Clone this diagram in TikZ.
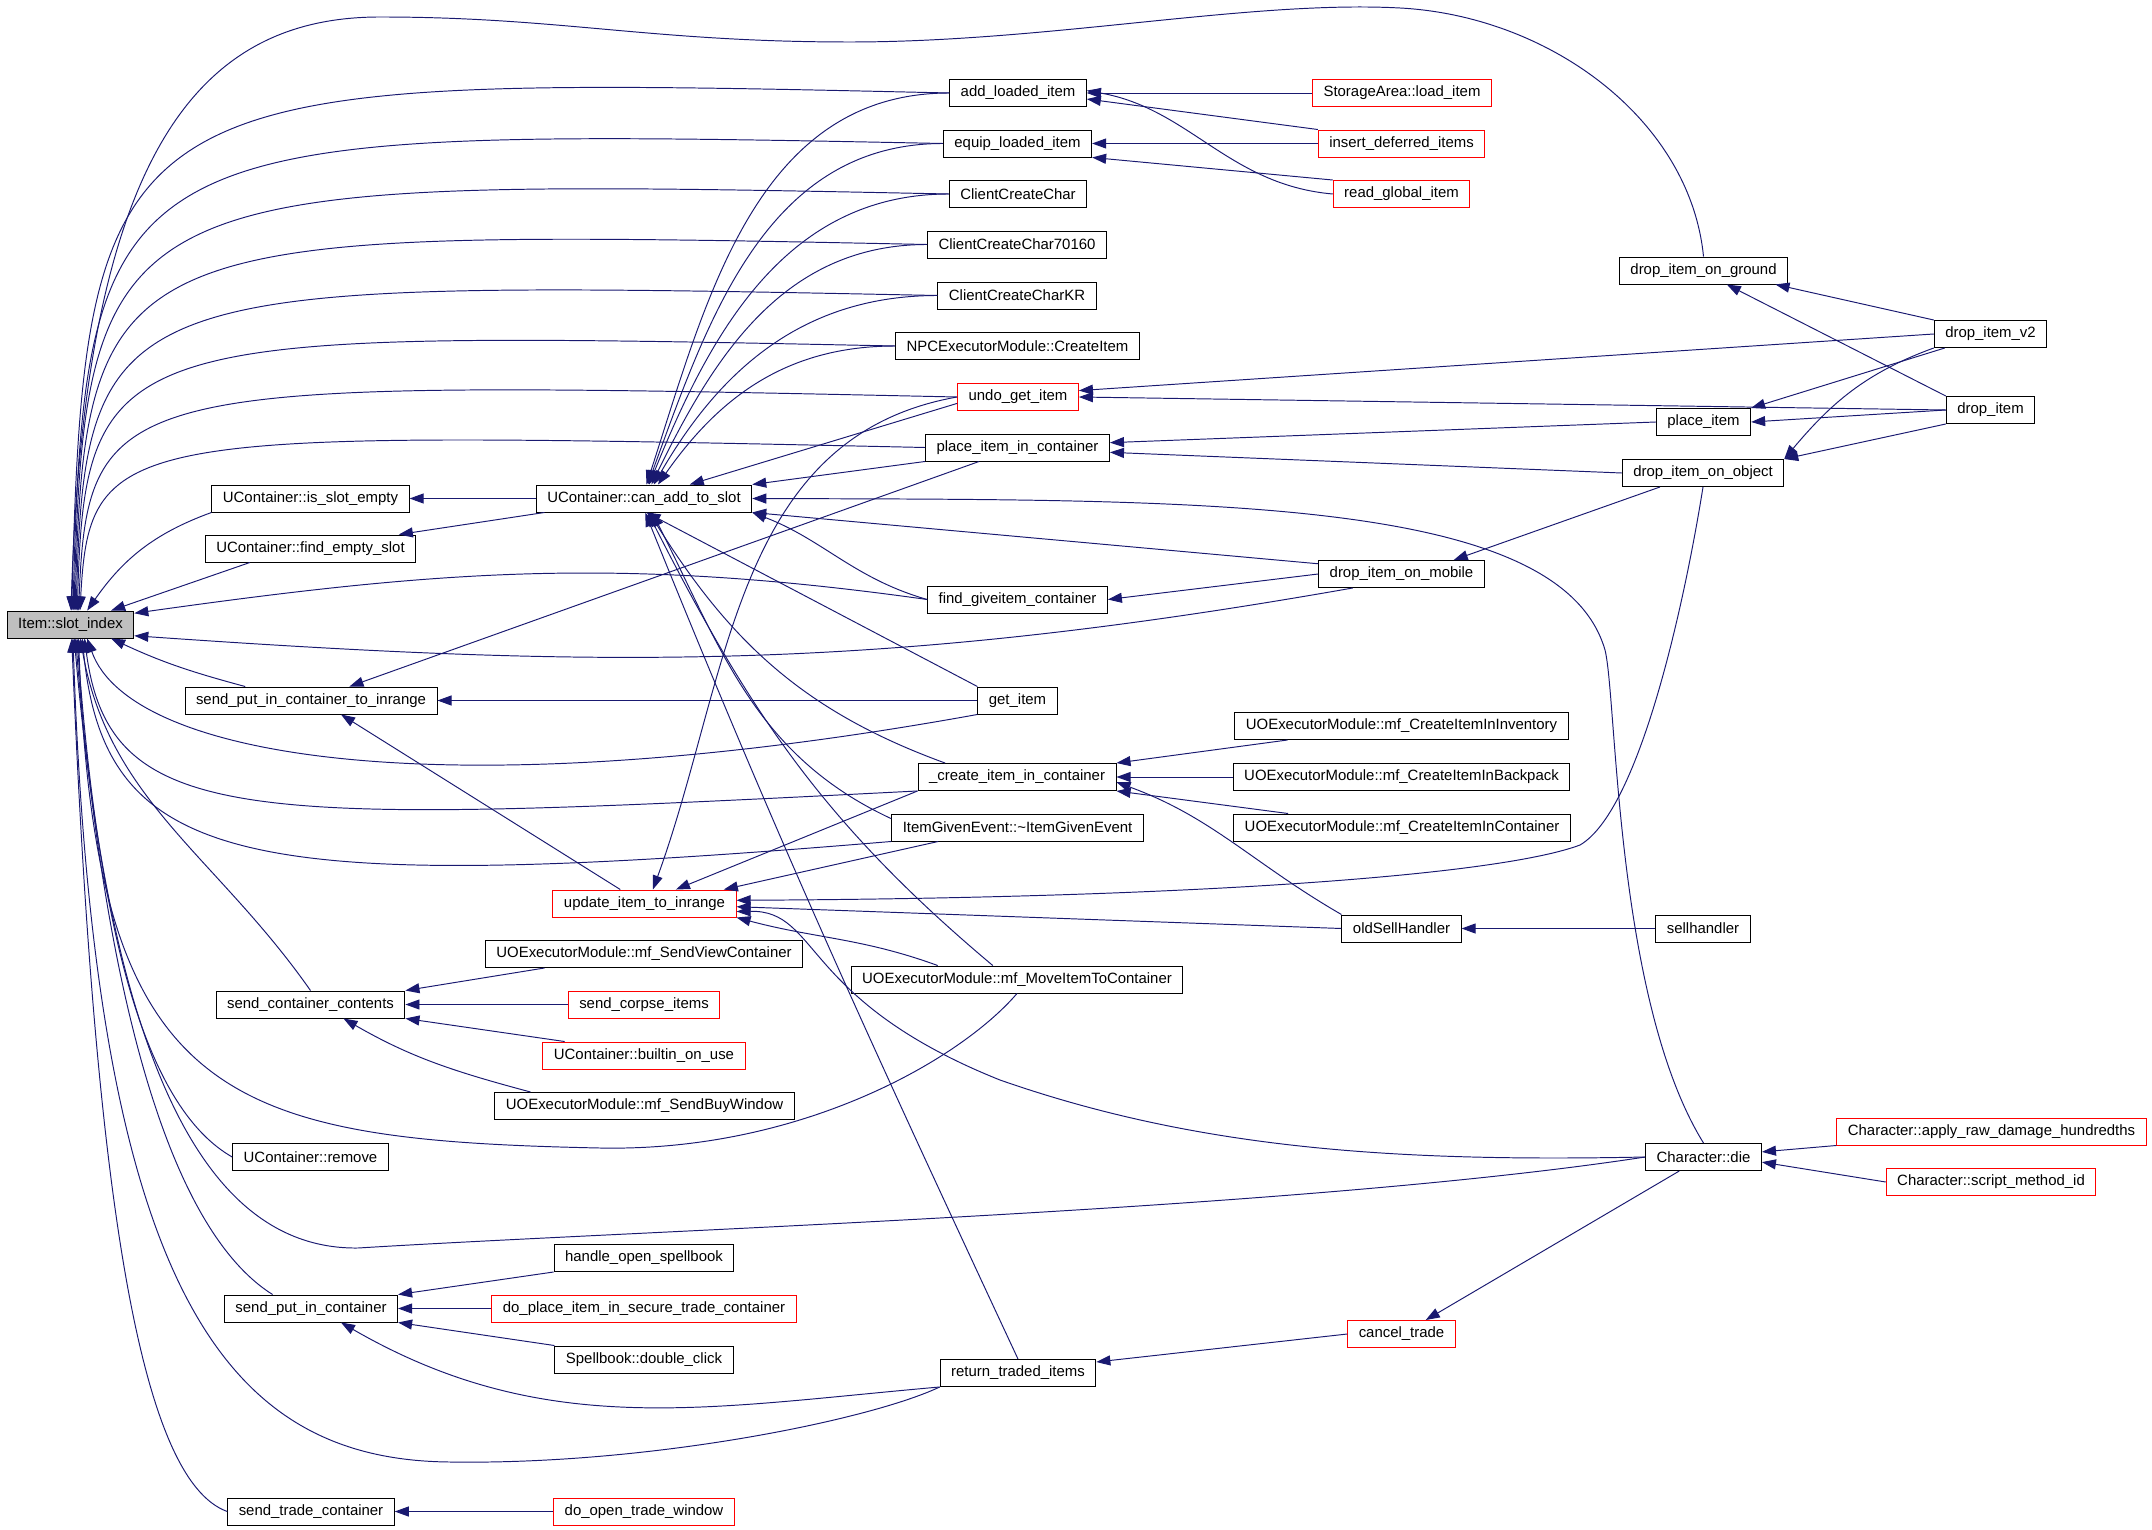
\documentclass[tikz,border=0pt]{standalone}
\usepackage{fontspec}
\setmainfont{Liberation Sans}
\usepackage{tikz}
\usetikzlibrary{arrows.meta}
\definecolor{callblue}{HTML}{191970}
\definecolor{nodered}{HTML}{FF0000}
\definecolor{selgray}{HTML}{BFBFBF}
\tikzset{%
  >={Triangle[width=5.7pt,length=8pt]},
           base/.style = {rectangle, draw=black, line width=0.55pt,
                          inner xsep=0.22cm, inner ysep=0pt, minimum height=0.54cm,
                          text centered, font=\fontsize{8.5}{10}\selectfont},
  fn/.style    = {base},
  fnred/.style = {base, draw=nodered},
  fnsel/.style = {base, fill=selgray},
  call/.style  = {draw=callblue, line width=0.55pt},
}

\begin{document}
\begin{tikzpicture}[x=0.02cm, y=-0.02cm]
  \useasboundingbox (0,0) rectangle (2152,1530);

  \node (onSlotIndex)         [fnsel] at (70.5,624.5)  {Item::slot\_index};

  \node (onIsSlotEmpty)       [fn]    at (310.5,498.5) {UContainer::is\_slot\_empty};
  \node (onFindEmpty)         [fn]    at (310.5,548.5) {UContainer::find\_empty\_slot};
  \node (onSendPutRange)      [fn]    at (311,700.5)   {send\_put\_in\_container\_to\_inrange};
  \node (onSendContents)      [fn]    at (310.5,1004.5) {send\_container\_contents};
  \node (onRemove)            [fn]    at (310.5,1157)  {UContainer::remove};
  \node (onSendPut)           [fn]    at (311,1308.5)  {send\_put\_in\_container};
  \node (onSendTrade)         [fn]    at (311,1511.5)  {send\_trade\_container};

  \node (onCanAdd)            [fn]    at (644,498.5)   {UContainer::can\_add\_to\_slot};
  \node (onUpdateRange)       [fnred] at (644.5,903.5) {update\_item\_to\_inrange};
  \node (onSendView)          [fn]    at (644,954)     {UOExecutorModule::mf\_SendViewContainer};
  \node (onCorpse)            [fnred] at (644,1004.5)  {send\_corpse\_items};
  \node (onBuiltinUse)        [fnred] at (644,1055.5)  {UContainer::builtin\_on\_use};
  \node (onBuyWindow)         [fn]    at (644.5,1106)  {UOExecutorModule::mf\_SendBuyWindow};
  \node (onOpenSpellbook)     [fn]    at (644,1258)    {handle\_open\_spellbook};
  \node (onSecureTrade)       [fnred] at (644,1308.5)  {do\_place\_item\_in\_secure\_trade\_container};
  \node (onDoubleClick)       [fn]    at (644,1359.5)  {Spellbook::double\_click};
  \node (onOpenTrade)         [fnred] at (644,1511.5)  {do\_open\_trade\_window};

  \node (onAddLoaded)         [fn]    at (1018,93)     {add\_loaded\_item};
  \node (onEquipLoaded)       [fn]    at (1017.5,143.5) {equip\_loaded\_item};
  \node (onClientCreate)      [fn]    at (1018,194)    {ClientCreateChar};
  \node (onClientCreate70160) [fn]    at (1017,244.5)  {ClientCreateChar70160};
  \node (onClientCreateKR)    [fn]    at (1017,295.5)  {ClientCreateCharKR};
  \node (onNpcCreate)         [fn]    at (1017.5,346)  {NPCExecutorModule::CreateItem};
  \node (onUndoGet)           [fnred] at (1018,397)    {undo\_get\_item};
  \node (onPlaceInCont)       [fn]    at (1017.5,447.5) {place\_item\_in\_container};
  \node (onFindGive)          [fn]    at (1017.5,599.5) {find\_giveitem\_container};
  \node (onGetItem)           [fn]    at (1017.5,700.5) {get\_item};
  \node (onCreateInCont)      [fn]    at (1017,777)    {\_create\_item\_in\_container};
  \node (onGivenEvent)        [fn]    at (1017.5,827.5) {ItemGivenEvent::\textasciitilde ItemGivenEvent};
  \node (onMoveItem)          [fn]    at (1017,979.5)  {UOExecutorModule::mf\_MoveItemToContainer};
  \node (onReturnTraded)      [fn]    at (1018,1373)   {return\_traded\_items};

  \node (onLoadItem)          [fnred] at (1402,93)     {StorageArea::load\_item};
  \node (onInsertDeferred)    [fnred] at (1401.5,143.5) {insert\_deferred\_items};
  \node (onReadGlobal)        [fnred] at (1401.5,194)  {read\_global\_item};
  \node (onDropMobile)        [fn]    at (1401.5,574)  {drop\_item\_on\_mobile};
  \node (onCreateInventory)   [fn]    at (1401.5,726)  {UOExecutorModule::mf\_CreateItemInInventory};
  \node (onCreateBackpack)    [fn]    at (1401.5,777)  {UOExecutorModule::mf\_CreateItemInBackpack};
  \node (onCreateContainer)   [fn]    at (1402,827.5)  {UOExecutorModule::mf\_CreateItemInContainer};
  \node (onOldSell)           [fn]    at (1401.5,928.5) {oldSellHandler};
  \node (onCancelTrade)       [fnred] at (1401.5,1334) {cancel\_trade};

  \node (onDropGround)        [fn]    at (1703.5,270.5) {drop\_item\_on\_ground};
  \node (onPlaceItem)         [fn]    at (1703.5,422)  {place\_item};
  \node (onDropObject)        [fn]    at (1703,473)    {drop\_item\_on\_object};
  \node (onSellHandler)       [fn]    at (1703,928.5)  {sellhandler};
  \node (onDie)               [fn]    at (1703.5,1157) {Character::die};

  \node (onDropV2)            [fn]    at (1990.5,334)  {drop\_item\_v2};
  \node (onDropItem)          [fn]    at (1990.5,410)  {drop\_item};
  \node (onRawDamage)         [fnred] at (1991.5,1131.5) {Character::apply\_raw\_damage\_hundredths};
  \node (onScriptMethod)      [fnred] at (1991,1182)   {Character::script\_method\_id};

  \draw[<-, call] (onSlotIndex.88) .. controls (85,150) and (200,17) .. (380,17) .. controls (560,17) and (650,42) .. (850,42) .. controls (1050,42) and (1250,0) .. (1400,8) .. controls (1550,16) and (1690,120) .. (onDropGround.north);
  \draw[<-, call] (onSlotIndex.85) .. controls (85,74) and (120,74) .. (onAddLoaded.west);
  \draw[<-, call] (onSlotIndex.80) .. controls (85,127) and (120,127) .. (onEquipLoaded.west);
  \draw[<-, call] (onSlotIndex.76) .. controls (85,177) and (120,177) .. (onClientCreate.west);
  \draw[<-, call] (onSlotIndex.72) .. controls (85,228) and (120,228) .. (onClientCreate70160.west);
  \draw[<-, call] (onSlotIndex.68) .. controls (85,279) and (120,279) .. (onClientCreateKR.west);
  \draw[<-, call] (onSlotIndex.64) .. controls (85,330) and (120,330) .. (onNpcCreate.west);
  \draw[<-, call] (onSlotIndex.60) .. controls (88,379) and (120,379) .. (onUndoGet.west);
  \draw[<-, call] (onSlotIndex.56) .. controls (90,430) and (120,430) .. (onPlaceInCont.west);
  \draw[<-, call] (onSlotIndex.40) to[out=55,in=200] (onIsSlotEmpty.south west);
  \draw[<-, call] (onSlotIndex.19) -- (onFindEmpty.193);
  \draw[<-, call] (onSlotIndex.10) to[out=8,in=172] (onFindGive.west);
  \draw[<-, call] (onSlotIndex.-10) to[out=-4,in=190] (onDropMobile.196);
  \draw[<-, call] (onSlotIndex.-19) to[out=-25,in=165] (onSendPutRange.168);
  \draw[<-, call] (onSlotIndex.-40) .. controls (130,760) and (450,810) .. (onGetItem.south west);
  \draw[<-, call] (onSlotIndex.-45) .. controls (110,830) and (250,825) .. (onCreateInCont.south west);
  \draw[<-, call] (onSlotIndex.-50) .. controls (105,870) and (250,895) .. (onGivenEvent.south west);
  \draw[<-, call] (onSlotIndex.-55) to[out=-80,in=125] (onSendContents.north);
  \draw[<-, call] (onSlotIndex.-60) .. controls (95,1100) and (220,1140) .. (600,1148) .. controls (800,1152) and (960,1060) .. (onMoveItem.south);
  \draw[<-, call] (onSlotIndex.-65) .. controls (100,950) and (150,1110) .. (onRemove.west);
  \draw[<-, call] (onSlotIndex.-70) .. controls (105,1000) and (170,1230) .. (onSendPut.160);
  \draw[<-, call] (onSlotIndex.-75) .. controls (110,1050) and (200,1250) .. (358,1248) .. controls (650,1230) and (1300,1210) .. (onDie.west);
  \draw[<-, call] (onSlotIndex.-80) .. controls (95,1300) and (230,1460) .. (450,1462) .. controls (650,1465) and (870,1420) .. (onReturnTraded.south west);
  \draw[<-, call] (onSlotIndex.-85) .. controls (95,1200) and (140,1480) .. (onSendTrade.west);

  \draw[<-, call] (onCanAdd.80) to[out=72,in=180] (onAddLoaded.west);
  \draw[<-, call] (onCanAdd.75) to[out=70,in=180] (onEquipLoaded.west);
  \draw[<-, call] (onCanAdd.70) to[out=68,in=180] (onClientCreate.west);
  \draw[<-, call] (onCanAdd.62) to[out=64,in=180] (onClientCreate70160.west);
  \draw[<-, call] (onCanAdd.55) to[out=60,in=180] (onClientCreateKR.west);
  \draw[<-, call] (onCanAdd.45) to[out=55,in=180] (onNpcCreate.west);
  \draw[<-, call] (onCanAdd.17) -- (onUndoGet.186);
  \draw[<-, call] (onCanAdd.north east) -- (onPlaceInCont.south west);
  \draw[<-, call] (onCanAdd.south east) to[out=-21,in=164] (onFindGive.west);
  \draw[<-, call] (onCanAdd.south east) -- (onDropMobile.173);
  \draw[<-, call] (onCanAdd.-80) -- (onGetItem.north west);
  \draw[<-, call] (onCanAdd.-70) to[out=-58,in=160] (onCreateInCont.169);
  \draw[<-, call] (onCanAdd.-60) to[out=-63,in=155] (onGivenEvent.176);
  \draw[<-, call] (onCanAdd.-75) to[out=-63,in=140] (onMoveItem.150);
  \draw[<-, call] (onCanAdd.-85) to[out=-68,in=115] (onReturnTraded.north);
  \draw[<-, call] (onCanAdd.east) .. controls (1200,500) and (1560,495) .. (1605,650) .. controls (1617,698) and (1615,1000) .. (onDie.north);
  \draw[<-, call] (onIsSlotEmpty) -- (onCanAdd);
  \draw[<-, call] (onFindEmpty.9) -- (onCanAdd.188);

  \draw[<-, call] (onSendPutRange.20) -- (onPlaceInCont.200);
  \draw[<-, call] (onSendPutRange) -- (onGetItem);
  \draw[<-, call] (onSendPutRange.-25) -- (onUpdateRange.150);

  \draw[<-, call] (onUpdateRange.59) to[out=70,in=190] (onUndoGet.west);
  \draw[<-, call] (onUpdateRange.24) -- (onCreateInCont.south west);
  \draw[<-, call] (onUpdateRange.10) -- (onGivenEvent.190);
  \draw[<-, call] (onUpdateRange.2) .. controls (1200,898) and (1500,875) .. (1580,845) .. controls (1640,810) and (1685,600) .. (onDropObject.south);
  \draw[<-, call] (onUpdateRange.-2) -- (onOldSell.west);
  \draw[<-, call] (onUpdateRange.south east) to[out=-15,in=160] (onMoveItem.170);
  \draw[<-, call] (onUpdateRange.-5) .. controls (820,910) and (800,1000) .. (1000,1080) .. controls (1200,1150) and (1400,1162) .. (onDie.west);

  \draw[<-, call] (onSendContents.north east) -- (onSendView.188);
  \draw[<-, call] (onSendContents) -- (onCorpse);
  \draw[<-, call] (onSendContents.south east) -- (onBuiltinUse.170);
  \draw[<-, call] (onSendContents.-23) to[out=-30,in=165] (onBuyWindow.173);

  \draw[<-, call] (onSendPut.north east) -- (onOpenSpellbook.south west);
  \draw[<-, call] (onSendPut) -- (onSecureTrade);
  \draw[<-, call] (onSendPut.south east) -- (onDoubleClick.north west);
  \draw[<-, call] (onSendPut.-25) to[out=-30,in=185] (onReturnTraded.south west);
  \draw[<-, call] (onSendTrade) -- (onOpenTrade);

  \draw[<-, call] (onReturnTraded.8) -- (onCancelTrade.west);
  \draw[<-, call] (onCancelTrade.30) -- (onDie.-150);
  \draw[<-, call] (onDie.5) -- (onRawDamage.south west);
  \draw[<-, call] (onDie.-5) -- (onScriptMethod.west);
  \draw[<-, call] (onOldSell) -- (onSellHandler);

  \draw[<-, call] (onCreateInCont.north east) -- (onCreateInventory.187);
  \draw[<-, call] (onCreateInCont) -- (onCreateBackpack);
  \draw[<-, call] (onCreateInCont.south east) -- (onCreateContainer.173);
  \draw[<-, call] (onCreateInCont.-3) to[out=-20,in=150] (onOldSell.north west);

  \draw[<-, call] (onFindGive.east) -- (onDropMobile.west);
  \draw[<-, call] (onDropMobile.15) -- (onDropObject.-162);
  \draw[<-, call] (onDropObject.north east) -- (onDropItem.south west);
  \draw[<-, call] (onDropObject.north east) to[out=50,in=200] (onDropV2.south west);
  \draw[<-, call] (onPlaceItem.east) -- (onDropItem.west);
  \draw[<-, call] (onPlaceItem.north east) -- (onDropV2.197);
  \draw[<-, call] (onPlaceInCont.3) -- (onPlaceItem.west);
  \draw[<-, call] (onPlaceInCont.-3) -- (onDropObject.west);
  \draw[<-, call] (onUndoGet.6) -- (onDropV2.west);
  \draw[<-, call] (onUndoGet.east) -- (onDropItem.west);
  \draw[<-, call] (onDropGround.-11) -- (onDropV2.north west);
  \draw[<-, call] (onDropGround.-31) -- (onDropItem.north west);

  \draw[<-, call] (onAddLoaded.east) -- (onLoadItem.west);
  \draw[<-, call] (onAddLoaded.-5) -- (onInsertDeferred.north west);
  \draw[<-, call] (onAddLoaded.2) to[out=-10,in=175] (onReadGlobal.west);
  \draw[<-, call] (onEquipLoaded.east) -- (onInsertDeferred.west);
  \draw[<-, call] (onEquipLoaded.south east) -- (onReadGlobal.north west);
\end{tikzpicture}
\end{document}
